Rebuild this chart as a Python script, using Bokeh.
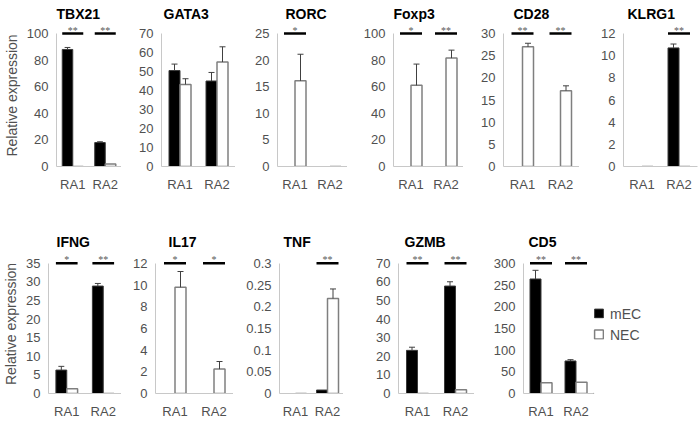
from bokeh.plotting import figure
from bokeh.layouts import column, row
from bokeh.models import (ColumnDataSource, FactorRange, FixedTicker, LabelSet,
                          Legend, LegendItem, Range1d)
from bokeh.transform import dodge
from bokeh.embed import file_html
from bokeh.resources import INLINE

cats = ["RA1", "RA2"]

# ---- data ----
tbx21_mec = [88.0, 18.0];   tbx21_mec_err = [1.5, 0.6]
tbx21_nec = [0.0, 1.8];     tbx21_nec_err = [0.0, 0.0]
tbx21_sig = ["**", "**"];   tbx21_ticks = [0, 20, 40, 60, 80, 100]

gata3_mec = [50.5, 45.0];   gata3_mec_err = [3.4, 4.5]
gata3_nec = [43.2, 55.0];   gata3_nec_err = [3.0, 8.0]
gata3_sig = ["", ""];       gata3_ticks = [0, 10, 20, 30, 40, 50, 60, 70]

rorc_mec = [0.0, 0.0];      rorc_mec_err = [0.0, 0.0]
rorc_nec = [16.1, 0.0];     rorc_nec_err = [5.0, 0.0]
rorc_sig = ["*", ""];       rorc_ticks = [0, 5, 10, 15, 20, 25]

foxp3_mec = [0.0, 0.0];     foxp3_mec_err = [0.0, 0.0]
foxp3_nec = [61.0, 81.5];   foxp3_nec_err = [16.0, 6.0]
foxp3_sig = ["*", "**"];    foxp3_ticks = [0, 20, 40, 60, 80, 100]

cd28_mec = [0.0, 0.0];      cd28_mec_err = [0.0, 0.0]
cd28_nec = [27.0, 17.1];    cd28_nec_err = [0.8, 1.1]
cd28_sig = ["**", "**"];    cd28_ticks = [0, 5, 10, 15, 20, 25, 30]

klrg1_mec = [0.0, 10.7];    klrg1_mec_err = [0.0, 0.35]
klrg1_nec = [0.0, 0.0];     klrg1_nec_err = [0.0, 0.0]
klrg1_sig = ["", "**"];     klrg1_ticks = [0, 2, 4, 6, 8, 10, 12]

ifng_mec = [6.3, 28.9];     ifng_mec_err = [1.0, 0.7]
ifng_nec = [1.3, 0.0];      ifng_nec_err = [0.0, 0.0]
ifng_sig = ["*", "**"];     ifng_ticks = [0, 5, 10, 15, 20, 25, 30, 35]

il17_mec = [0.0, 0.0];      il17_mec_err = [0.0, 0.0]
il17_nec = [9.8, 2.25];     il17_nec_err = [1.45, 0.7]
il17_sig = ["*", "*"];      il17_ticks = [0, 2, 4, 6, 8, 10, 12]

tnf_mec = [0.0, 0.008];     tnf_mec_err = [0.0, 0.0]
tnf_nec = [0.0, 0.219];     tnf_nec_err = [0.0, 0.022]
tnf_sig = ["", "**"];       tnf_ticks = [0, 0.05, 0.1, 0.15, 0.2, 0.25, 0.3]
tnf_tick_labels = ["0", "0.05", "0.1", "0.15", "0.2", "0.25", "0.3"]

gzmb_mec = [23.2, 57.8];    gzmb_mec_err = [1.7, 2.3]
gzmb_nec = [0.0, 2.0];      gzmb_nec_err = [0.0, 0.0]
gzmb_sig = ["**", "**"];    gzmb_ticks = [0, 10, 20, 30, 40, 50, 60, 70]

cd5_mec = [264.0, 75.0];    cd5_mec_err = [20.0, 3.0]
cd5_nec = [25.0, 26.0];     cd5_nec_err = [0.0, 0.0]
cd5_sig = ["**", "**"];     cd5_ticks = [0, 50, 100, 150, 200, 250, 300]

series_labels = ["mEC", "NEC"]
y_title = "Relative expression"

FONT = "Liberation Sans"
AX = "#c8c8c8"
TXT = "#505050"
EXT = 9  # px of headroom above the top tick for the significance marks


def panel(name, mec, mec_err, nec, nec_err, sig, ticks, tick_labels,
          mbl, fw, mbr, mbt, fh, mbb, t_off, t_stand, ylabel=None):
    ymax = ticks[-1]
    top_end = ymax * (1 + EXT / float(fh - EXT))
    p = figure(x_range=FactorRange(factors=cats), y_range=Range1d(0, top_end),
               width=mbl + fw + mbr, height=mbt + fh + mbb,
               min_border_left=mbl, min_border_right=mbr,
               min_border_top=mbt, min_border_bottom=mbb,
               output_backend="svg", toolbar_location=None)
    p.title.text = name
    p.title.text_font = FONT
    p.title.text_font_style = "bold"
    p.title.text_font_size = "14px"
    p.title.text_color = "black"
    p.title.align = "left"
    p.title.offset = t_off
    p.title.standoff = t_stand

    bw = 22.0 / fw
    src = ColumnDataSource(dict(cat=cats, mec=mec, nec=nec))
    p.vbar(x=dodge("cat", -bw / 2, range=p.x_range), top="mec", width=bw,
           source=src, fill_color="black", line_color="#3a3a3a", line_width=1)
    p.vbar(x=dodge("cat", bw / 2, range=p.x_range), top="nec", width=bw,
           source=src, fill_color="white", line_color="#7f7f7f", line_width=1.5)

    cap = 6.0 / fw
    for vals, errs, off in ((mec, mec_err, -bw / 2), (nec, nec_err, bw / 2)):
        c = [k for k, e in zip(cats, errs) if e > 0]
        lo = [v for v, e in zip(vals, errs) if e > 0]
        up = [v + e for v, e in zip(vals, errs) if e > 0]
        if not c:
            continue
        es = ColumnDataSource(dict(cat=c, lo=lo, up=up))
        p.segment(x0=dodge("cat", off, range=p.x_range), x1=dodge("cat", off, range=p.x_range),
                  y0="lo", y1="up", source=es, line_color="#404040", line_width=1)
        p.segment(x0=dodge("cat", off - cap, range=p.x_range), x1=dodge("cat", off + cap, range=p.x_range),
                  y0="up", y1="up", source=es, line_color="#404040", line_width=1)

    sc = [k for k, s in zip(cats, sig) if s]
    ss = [s for s in sig if s]
    if sc:
        yv = [ymax] * len(sc)
        sgs = ColumnDataSource(dict(cat=sc, y=yv, s=ss))
        p.segment(x0=dodge("cat", -bw, range=p.x_range), x1=dodge("cat", bw, range=p.x_range),
                  y0="y", y1="y", source=sgs, line_color="black", line_width=2.5)
        p.add_layout(LabelSet(x="cat", y="y", text="s", source=sgs, text_align="center",
                              text_baseline="alphabetic", y_offset=0, text_font_size="10px",
                              text_color="#595959", text_font=FONT))

    p.xgrid.grid_line_color = None
    p.ygrid.grid_line_color = None
    p.outline_line_color = None

    for ax in (p.xaxis[0], p.yaxis[0]):
        ax.axis_line_color = AX
        ax.axis_line_width = 1
        ax.major_tick_line_color = None
        ax.minor_tick_line_color = None
        ax.major_tick_out = 0
        ax.major_tick_in = 0
        ax.minor_tick_out = 0
        ax.minor_tick_in = 0
        ax.major_label_text_font = FONT
        ax.major_label_text_font_size = "13px"
        ax.major_label_text_color = TXT
    p.xaxis.major_label_standoff = 10
    p.yaxis.major_label_standoff = 8
    p.yaxis.bounds = (0, ymax)
    p.yaxis.ticker = FixedTicker(ticks=ticks)
    p.yaxis.major_label_overrides = {t: l for t, l in zip(ticks, tick_labels)}
    if ylabel:
        p.yaxis.axis_label = ylabel
        p.yaxis.axis_label_text_font = FONT
        p.yaxis.axis_label_text_font_style = "normal"
        p.yaxis.axis_label_text_font_size = "14px"
        p.yaxis.axis_label_text_color = TXT
        p.yaxis.axis_label_standoff = 4
    return p


def lab(ticks):
    return [str(t) for t in ticks]


# top row geometry (row height 200)
TT, TH, TB = 33 - EXT, 133 + EXT, 34
top = [
    panel("TBX21", tbx21_mec, tbx21_mec_err, tbx21_nec, tbx21_nec_err, tbx21_sig, tbx21_ticks, lab(tbx21_ticks),
          53, 68, 0, TT, TH, TB, 0, 6, y_title),
    panel("GATA3", gata3_mec, gata3_mec_err, gata3_nec, gata3_nec_err, gata3_sig, gata3_ticks, lab(gata3_ticks),
          40, 74, 0, TT, TH, TB, 2, 6),
    panel("RORC", rorc_mec, rorc_mec_err, rorc_nec, rorc_nec_err, rorc_sig, rorc_ticks, lab(rorc_ticks),
          42, 70, 0, TT, TH, TB, 8, 6),
    panel("Foxp3", foxp3_mec, foxp3_mec_err, foxp3_nec, foxp3_nec_err, foxp3_sig, foxp3_ticks, lab(foxp3_ticks),
          46, 70, 0, TT, TH, TB, 0, 6),
    panel("CD28", cd28_mec, cd28_mec_err, cd28_nec, cd28_nec_err, cd28_sig, cd28_ticks, lab(cd28_ticks),
          40, 76, 0, TT, TH, TB, 10, 6),
    panel("KLRG1", klrg1_mec, klrg1_mec_err, klrg1_nec, klrg1_nec_err, klrg1_sig, klrg1_ticks, lab(klrg1_ticks),
          44, 74, 3, TT, TH, TB, 4, 6),
]

# bottom row geometry (row height 221)
BT, BH, BB = 63 - EXT, 132 + EXT, 26
bottom = [
    panel("IFNG", ifng_mec, ifng_mec_err, ifng_nec, ifng_nec_err, ifng_sig, ifng_ticks, lab(ifng_ticks),
          47, 74, 0, BT, BH, BB, 8, 9, y_title),
    panel("IL17", il17_mec, il17_mec_err, il17_nec, il17_nec_err, il17_sig, il17_ticks, lab(il17_ticks),
          34, 78, 0, BT, BH, BB, 13, 9),
    panel("TNF", tnf_mec, tnf_mec_err, tnf_nec, tnf_nec_err, tnf_sig, tnf_ticks, tnf_tick_labels,
          46, 64, 0, BT, BH, BB, 4, 9),
    panel("GZMB", gzmb_mec, gzmb_mec_err, gzmb_nec, gzmb_nec_err, gzmb_sig, gzmb_ticks, lab(gzmb_ticks),
          55, 76, 0, BT, BH, BB, 6, 9),
    panel("CD5", cd5_mec, cd5_mec_err, cd5_nec, cd5_nec_err, cd5_sig, cd5_ticks, lab(cd5_ticks),
          49, 70, 0, BT, BH, BB, 5, 9),
]

# legend holder (no axes); its swatch renderers sit outside the visible range
leg = figure(width=107, height=BT + BH + BB, x_range=Range1d(0, 1), y_range=Range1d(0, 1),
             min_border_left=0, min_border_right=0, min_border_top=BT, min_border_bottom=BB,
             x_axis_type=None, y_axis_type=None, output_backend="svg", toolbar_location=None)
leg.outline_line_color = None
hidden = ColumnDataSource(dict(x=[-5.0], top=[-5.0]))
r_m = leg.vbar(x="x", top="top", width=0.1, source=hidden,
               fill_color="black", line_color="#3a3a3a", line_width=1)
r_n = leg.vbar(x="x", top="top", width=0.1, source=hidden,
               fill_color="white", line_color="#7f7f7f", line_width=1.5)
legend = Legend(items=[LegendItem(label=series_labels[0], renderers=[r_m]),
                       LegendItem(label=series_labels[1], renderers=[r_n])],
                location="center_left", border_line_color=None, background_fill_alpha=0,
                padding=0, margin=0, spacing=5, glyph_width=11, glyph_height=11,
                label_standoff=6, label_text_font=FONT, label_text_font_size="14px",
                label_text_color=TXT, label_height=11)
leg.add_layout(legend)

layout = column(row(*top), row(*bottom, leg))

open("out.html", "w").write(file_html(layout, INLINE))
